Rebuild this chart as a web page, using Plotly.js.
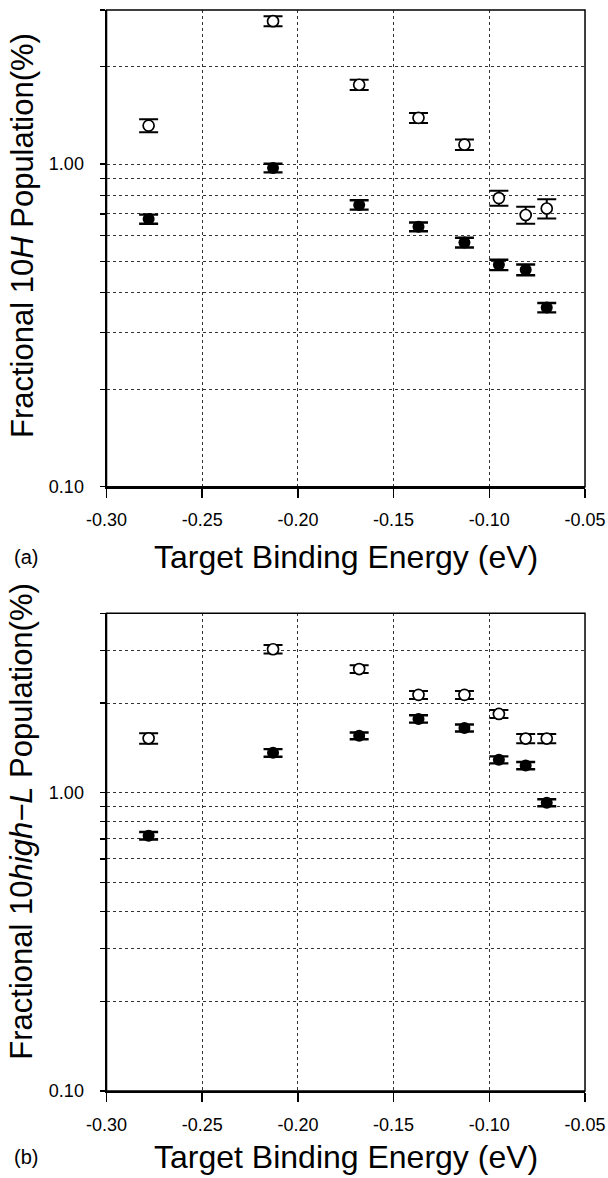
<!DOCTYPE html>
<html>
<head>
<meta charset="utf-8">
<script src="https://cdn.plot.ly/plotly-3.0.1.min.js"></script>
<style>html,body{margin:0;padding:0;background:#fff;}#chart{width:608px;height:1178px;}</style>
</head>
<body>
<div id="chart"></div>
<script>
// Target binding energies (eV)
const bindingEnergy = [-0.278, -0.213, -0.168, -0.137, -0.113, -0.095, -0.081, -0.070];

// Panel (a): fractional 10H population (%)
const a_open = [1.315, 2.77, 1.76, 1.39, 1.148, 0.784, 0.695, 0.728];
const a_openErr = [0.06, 0.10, 0.065, 0.05, 0.043, 0.042, 0.042, 0.05];
const a_filled = [0.675, 0.972, 0.747, 0.639, 0.571, 0.487, 0.470, 0.359];
const a_filledErr = [0.022, 0.03, 0.025, 0.02, 0.02, 0.018, 0.018, 0.012];

// Panel (b): fractional 10high-L population (%)
const b_open = [1.523, 3.03, 2.60, 2.13, 2.13, 1.838, 1.52, 1.52];
const b_openErr = [0.062, 0.10, 0.08, 0.065, 0.065, 0.057, 0.054, 0.054];
const b_filled = [0.718, 1.361, 1.552, 1.769, 1.65, 1.29, 1.234, 0.926];
const b_filledErr = [0.021, 0.04, 0.04, 0.05, 0.045, 0.035, 0.035, 0.025];

// Axis ticks
const xTicks = [-0.30, -0.25, -0.20, -0.15, -0.10, -0.05];
const xTickText = ['-0.30', '-0.25', '-0.20', '-0.15', '-0.10', '-0.05'];
const yTicksA = [0.1, 0.2, 0.3, 0.4, 0.5, 0.6, 0.7, 0.8, 0.9, 1, 2, 3];
const yTicksB = [0.1, 0.2, 0.3, 0.4, 0.5, 0.6, 0.7, 0.8, 0.9, 1, 2, 3, 4];
const yLabel = v => v === 0.1 ? '0.10' : (v === 1 ? '1.00' : '');

const FONT = 'Arial, "Liberation Sans", Helvetica, sans-serif';

function openTrace(y, err, xa, ya) {
  return {
    x: bindingEnergy, y: y, xaxis: xa, yaxis: ya, type: 'scatter', mode: 'markers',
    marker: {symbol: 'circle', size: 11, color: '#fff', line: {color: '#000', width: 1.7}},
    error_y: {type: 'data', array: err, visible: true, color: '#000', thickness: 2, width: 9.5},
    showlegend: false, hoverinfo: 'x+y'
  };
}
function filledTrace(y, err, xa, ya) {
  return {
    x: bindingEnergy, y: y, xaxis: xa, yaxis: ya, type: 'scatter', mode: 'markers',
    marker: {symbol: 'circle', size: 12, color: '#000', line: {color: '#000', width: 0}},
    error_y: {type: 'data', array: err, visible: true, color: '#000', thickness: 2.4, width: 9.5},
    showlegend: false, hoverinfo: 'x+y'
  };
}

const data = [
  openTrace(a_open, a_openErr, 'x', 'y'),
  filledTrace(a_filled, a_filledErr, 'x', 'y'),
  openTrace(b_open, b_openErr, 'x2', 'y2'),
  filledTrace(b_filled, b_filledErr, 'x2', 'y2')
];

function xAxis(anchor) {
  return {
    domain: [0.1752, 0.9622], anchor: anchor, range: [-0.30, -0.05],
    tickmode: 'array', tickvals: xTicks, ticktext: xTickText,
    ticks: 'outside', ticklen: 9, tickwidth: 1.5, tickcolor: '#000',
    ticklabelstandoff: 7,
    tickfont: {family: FONT, size: 18, color: '#000'},
    showline: true, linecolor: '#000', linewidth: 2, mirror: false,
    showgrid: true, gridcolor: '#333', gridwidth: 1, griddash: 'dot',
    zeroline: false, fixedrange: true
  };
}
function yAxis(anchor, domain, top, ticks) {
  return {
    domain: domain, anchor: anchor, type: 'log', range: [-1, Math.log10(top)],
    tickmode: 'array', tickvals: ticks, ticktext: ticks.map(yLabel),
    ticks: 'outside', ticklen: 5, tickwidth: 1.2, tickcolor: '#000',
    ticklabelstandoff: 12,
    tickfont: {family: FONT, size: 18, color: '#000'},
    showline: true, linecolor: '#000', linewidth: 2, mirror: false,
    showgrid: true, gridcolor: '#333', gridwidth: 1, griddash: 'dot',
    zeroline: false, fixedrange: true
  };
}

const layout = {
  width: 608, height: 1178, autosize: false,
  margin: {l: 0, r: 0, t: 0, b: 0},
  paper_bgcolor: '#fff', plot_bgcolor: '#fff',
  font: {family: FONT, color: '#000'},
  xaxis: xAxis('y'),
  yaxis: yAxis('x', [0.5868, 0.9915], 3, yTicksA),
  xaxis2: xAxis('y2'),
  yaxis2: yAxis('x2', [0.0739, 0.4794], 4, yTicksB),
  shapes: [
    {type: 'rect', xref: 'x domain', yref: 'y domain', x0: 0, x1: 1, y0: 0, y1: 1,
     line: {color: '#000', width: 1.5}, fillcolor: 'rgba(0,0,0,0)', layer: 'above'},
    {type: 'rect', xref: 'x2 domain', yref: 'y2 domain', x0: 0, x1: 1, y0: 0, y1: 1,
     line: {color: '#000', width: 1.5}, fillcolor: 'rgba(0,0,0,0)', layer: 'above'}
  ],
  annotations: [
    {text: 'Fractional 10<i>H</i> Population(%)', xref: 'paper', yref: 'paper',
     x: 22/608, y: 1 - 236/1178, xanchor: 'center', yanchor: 'middle', textangle: -90,
     showarrow: false, font: {family: FONT, size: 31, color: '#000'}},
    {text: 'Target Binding Energy (eV)', xref: 'paper', yref: 'paper',
     x: 346/608, y: 1 - 556.7/1178, xanchor: 'center', yanchor: 'middle',
     showarrow: false, font: {family: FONT, size: 32, color: '#000'}},
    {text: '(a)', xref: 'paper', yref: 'paper',
     x: 26/608, y: 1 - 557/1178, xanchor: 'center', yanchor: 'middle',
     showarrow: false, font: {family: FONT, size: 20, color: '#000'}},
    {text: 'Fractional 10<i>high\u2212L</i> Population(%)', xref: 'paper', yref: 'paper',
     x: 22/608, y: 1 - 821.7/1178, xanchor: 'center', yanchor: 'middle', textangle: -90,
     showarrow: false, font: {family: FONT, size: 31, color: '#000'}},
    {text: 'Target Binding Energy (eV)', xref: 'paper', yref: 'paper',
     x: 346/608, y: 1 - 1156.7/1178, xanchor: 'center', yanchor: 'middle',
     showarrow: false, font: {family: FONT, size: 32, color: '#000'}},
    {text: '(b)', xref: 'paper', yref: 'paper',
     x: 26/608, y: 1 - 1157/1178, xanchor: 'center', yanchor: 'middle',
     showarrow: false, font: {family: FONT, size: 20, color: '#000'}}
  ]
};

Plotly.newPlot('chart', data, layout, {displayModeBar: false, staticPlot: true});
</script>
</body>
</html>
